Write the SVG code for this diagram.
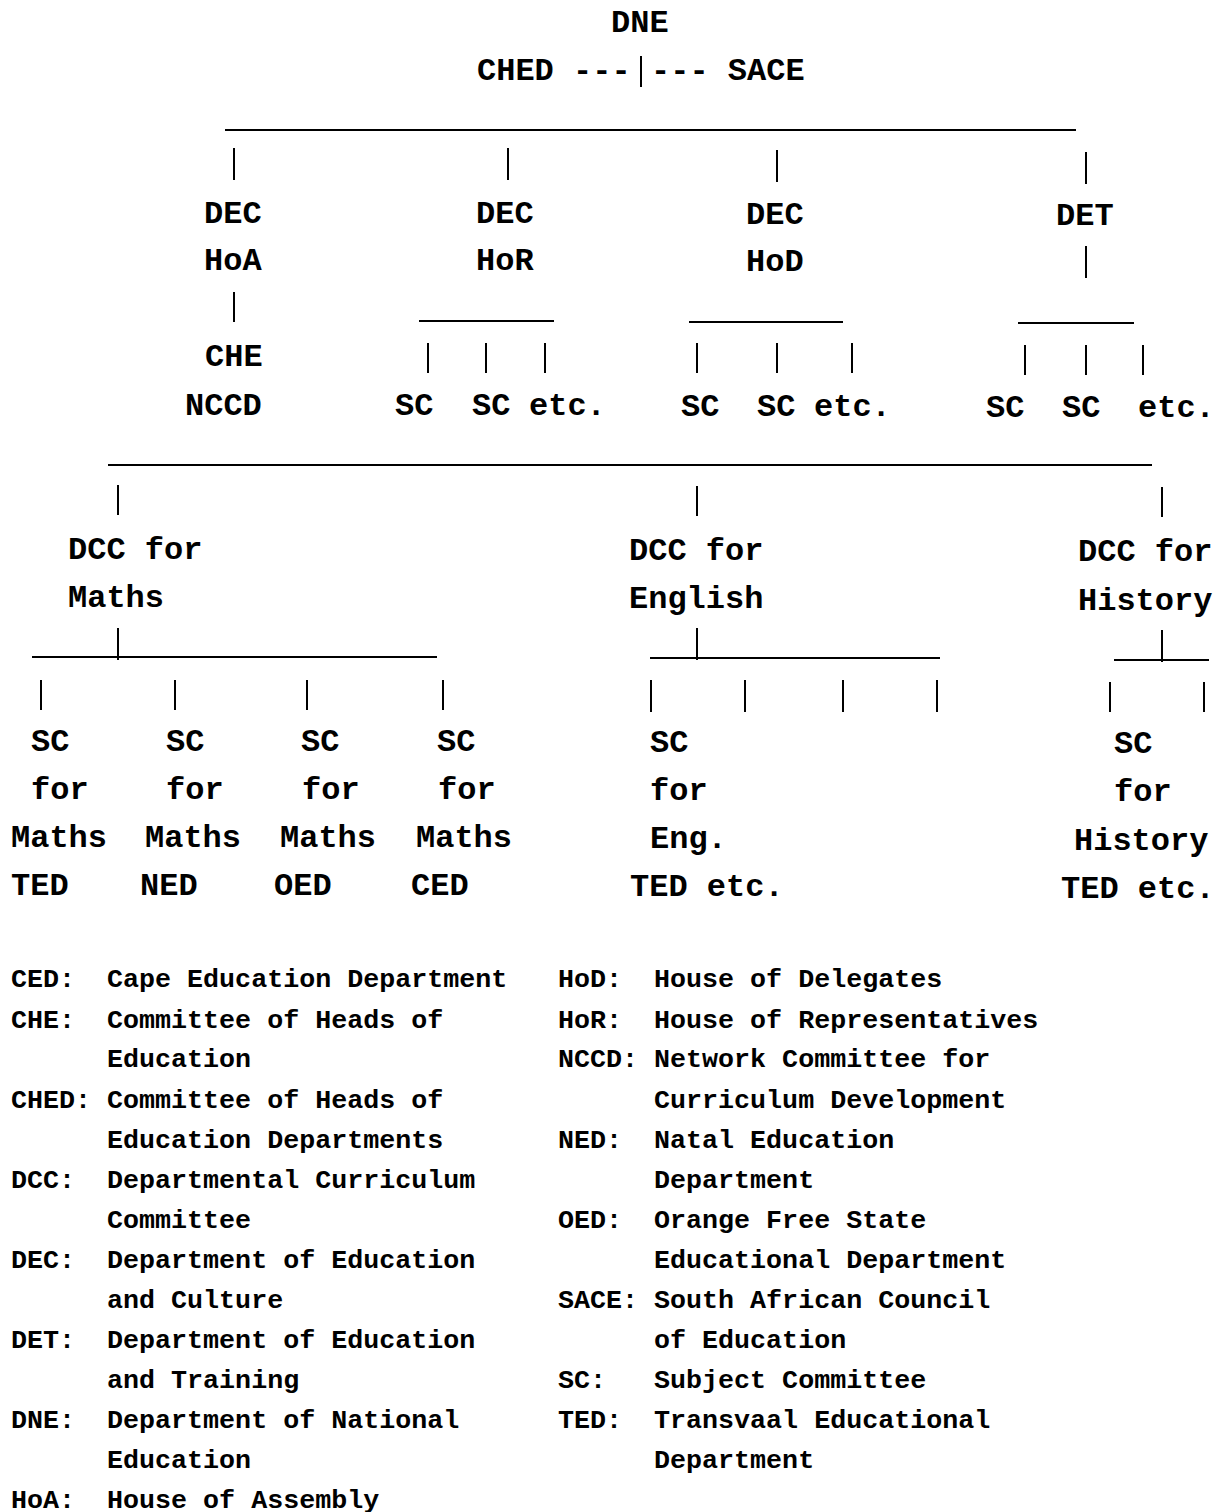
<svg xmlns="http://www.w3.org/2000/svg" width="1225" height="1512" viewBox="0 0 1225 1512">
<style>
.t{font-family:"Liberation Mono","DejaVu Sans Mono",monospace;font-weight:bold;font-size:32px;fill:#000}
.l{font-family:"Liberation Mono","DejaVu Sans Mono",monospace;font-weight:bold;font-size:26.7px;fill:#000}
.c line{stroke:#000;stroke-width:2}
</style>
<rect width="1225" height="1512" fill="#fff"/>
<g class="c" id="connectors">
<line x1="641" y1="56" x2="641" y2="87"/>
<line x1="225" y1="130" x2="1076" y2="130"/>
<line x1="234" y1="148" x2="234" y2="180"/>
<line x1="508" y1="148" x2="508" y2="180"/>
<line x1="777" y1="150" x2="777" y2="182"/>
<line x1="1086" y1="152" x2="1086" y2="184"/>
<line x1="234" y1="292" x2="234" y2="322"/>
<line x1="1086" y1="246" x2="1086" y2="278"/>
<line x1="419" y1="321" x2="554" y2="321"/>
<line x1="428" y1="343" x2="428" y2="373"/>
<line x1="486" y1="343" x2="486" y2="373"/>
<line x1="545" y1="343" x2="545" y2="373"/>
<line x1="689" y1="322" x2="843" y2="322"/>
<line x1="697" y1="343" x2="697" y2="373"/>
<line x1="777" y1="343" x2="777" y2="373"/>
<line x1="852" y1="343" x2="852" y2="373"/>
<line x1="1018" y1="323" x2="1134" y2="323"/>
<line x1="1025" y1="345" x2="1025" y2="375"/>
<line x1="1086" y1="345" x2="1086" y2="375"/>
<line x1="1143" y1="345" x2="1143" y2="375"/>
<line x1="108" y1="465" x2="1152" y2="465"/>
<line x1="118" y1="485" x2="118" y2="515"/>
<line x1="697" y1="486" x2="697" y2="516"/>
<line x1="1162" y1="487" x2="1162" y2="517"/>
<line x1="118" y1="628" x2="118" y2="660"/>
<line x1="32" y1="657" x2="437" y2="657"/>
<line x1="41" y1="680" x2="41" y2="710"/>
<line x1="175" y1="680" x2="175" y2="710"/>
<line x1="307" y1="680" x2="307" y2="710"/>
<line x1="443" y1="680" x2="443" y2="710"/>
<line x1="697" y1="628" x2="697" y2="660"/>
<line x1="650" y1="658" x2="940" y2="658"/>
<line x1="651" y1="680" x2="651" y2="712"/>
<line x1="745" y1="680" x2="745" y2="712"/>
<line x1="843" y1="680" x2="843" y2="712"/>
<line x1="937" y1="680" x2="937" y2="712"/>
<line x1="1162" y1="630" x2="1162" y2="662"/>
<line x1="1114" y1="660" x2="1209" y2="660"/>
<line x1="1110" y1="682" x2="1110" y2="712"/>
<line x1="1204" y1="682" x2="1204" y2="712"/>
</g>
<g id="n-dne"><text class="t" x="611" y="32">DNE</text></g>
<g id="n-ched"><text class="t" x="477" y="80">CHED ---</text></g>
<g id="n-sace"><text class="t" x="651" y="80">--- SACE</text></g>
<g id="n-dec-hoa"><text class="t" x="204" y="223">DEC</text><text class="t" x="204" y="270">HoA</text></g>
<g id="n-dec-hor"><text class="t" x="476" y="223">DEC</text><text class="t" x="476" y="270">HoR</text></g>
<g id="n-dec-hod"><text class="t" x="746" y="224">DEC</text><text class="t" x="746" y="271">HoD</text></g>
<g id="n-det"><text class="t" x="1056" y="225">DET</text></g>
<g id="n-che-nccd"><text class="t" x="205" y="366">CHE</text><text class="t" x="185" y="415">NCCD</text></g>
<g id="n-sc-hor"><text class="t" x="395" y="415">SC</text><text class="t" x="472" y="415">SC</text><text class="t" x="529" y="415">etc.</text></g>
<g id="n-sc-hod"><text class="t" x="681" y="416">SC</text><text class="t" x="757" y="416">SC</text><text class="t" x="814" y="416">etc.</text></g>
<g id="n-sc-det"><text class="t" x="986" y="417">SC</text><text class="t" x="1062" y="417">SC</text><text class="t" x="1138" y="417">etc.</text></g>
<g id="n-dcc-maths"><text class="t" x="68" y="559">DCC for</text><text class="t" x="68" y="607">Maths</text></g>
<g id="n-dcc-english"><text class="t" x="629" y="560">DCC for</text><text class="t" x="629" y="608">English</text></g>
<g id="n-dcc-history"><text class="t" x="1078" y="561">DCC for</text><text class="t" x="1078" y="610">History</text></g>
<g id="n-sc-maths-ted"><text class="t" x="31" y="751">SC</text><text class="t" x="31" y="799">for</text><text class="t" x="11" y="847">Maths</text><text class="t" x="11" y="895">TED</text></g>
<g id="n-sc-maths-ned"><text class="t" x="166" y="751">SC</text><text class="t" x="166" y="799">for</text><text class="t" x="145" y="847">Maths</text><text class="t" x="140" y="895">NED</text></g>
<g id="n-sc-maths-oed"><text class="t" x="301" y="751">SC</text><text class="t" x="302" y="799">for</text><text class="t" x="280" y="847">Maths</text><text class="t" x="274" y="895">OED</text></g>
<g id="n-sc-maths-ced"><text class="t" x="437" y="751">SC</text><text class="t" x="438" y="799">for</text><text class="t" x="416" y="847">Maths</text><text class="t" x="411" y="895">CED</text></g>
<g id="n-sc-eng"><text class="t" x="650" y="752">SC</text><text class="t" x="650" y="800">for</text><text class="t" x="650" y="848">Eng.</text><text class="t" x="630" y="896">TED etc.</text></g>
<g id="n-sc-history"><text class="t" x="1114" y="753">SC</text><text class="t" x="1114" y="801">for</text><text class="t" x="1074" y="850">History</text><text class="t" x="1061" y="898">TED etc.</text></g>
<g id="legend">
<text class="l" x="11" y="987">CED:</text><text class="l" x="107" y="987">Cape Education Department</text>
<text class="l" x="11" y="1028">CHE:</text><text class="l" x="107" y="1028">Committee of Heads of</text>
<text class="l" x="107" y="1067">Education</text>
<text class="l" x="11" y="1108">CHED:</text><text class="l" x="107" y="1108">Committee of Heads of</text>
<text class="l" x="107" y="1148">Education Departments</text>
<text class="l" x="11" y="1188">DCC:</text><text class="l" x="107" y="1188">Departmental Curriculum</text>
<text class="l" x="107" y="1228">Committee</text>
<text class="l" x="11" y="1268">DEC:</text><text class="l" x="107" y="1268">Department of Education</text>
<text class="l" x="107" y="1308">and Culture</text>
<text class="l" x="11" y="1348">DET:</text><text class="l" x="107" y="1348">Department of Education</text>
<text class="l" x="107" y="1388">and Training</text>
<text class="l" x="11" y="1428">DNE:</text><text class="l" x="107" y="1428">Department of National</text>
<text class="l" x="107" y="1468">Education</text>
<text class="l" x="11" y="1508">HoA:</text><text class="l" x="107" y="1508">House of Assembly</text>
<text class="l" x="558" y="987">HoD:</text><text class="l" x="654" y="987">House of Delegates</text>
<text class="l" x="558" y="1028">HoR:</text><text class="l" x="654" y="1028">House of Representatives</text>
<text class="l" x="558" y="1067">NCCD:</text><text class="l" x="654" y="1067">Network Committee for</text>
<text class="l" x="654" y="1108">Curriculum Development</text>
<text class="l" x="558" y="1148">NED:</text><text class="l" x="654" y="1148">Natal Education</text>
<text class="l" x="654" y="1188">Department</text>
<text class="l" x="558" y="1228">OED:</text><text class="l" x="654" y="1228">Orange Free State</text>
<text class="l" x="654" y="1268">Educational Department</text>
<text class="l" x="558" y="1308">SACE:</text><text class="l" x="654" y="1308">South African Council</text>
<text class="l" x="654" y="1348">of Education</text>
<text class="l" x="558" y="1388">SC:</text><text class="l" x="654" y="1388">Subject Committee</text>
<text class="l" x="558" y="1428">TED:</text><text class="l" x="654" y="1428">Transvaal Educational</text>
<text class="l" x="654" y="1468">Department</text>
</g>
</svg>
